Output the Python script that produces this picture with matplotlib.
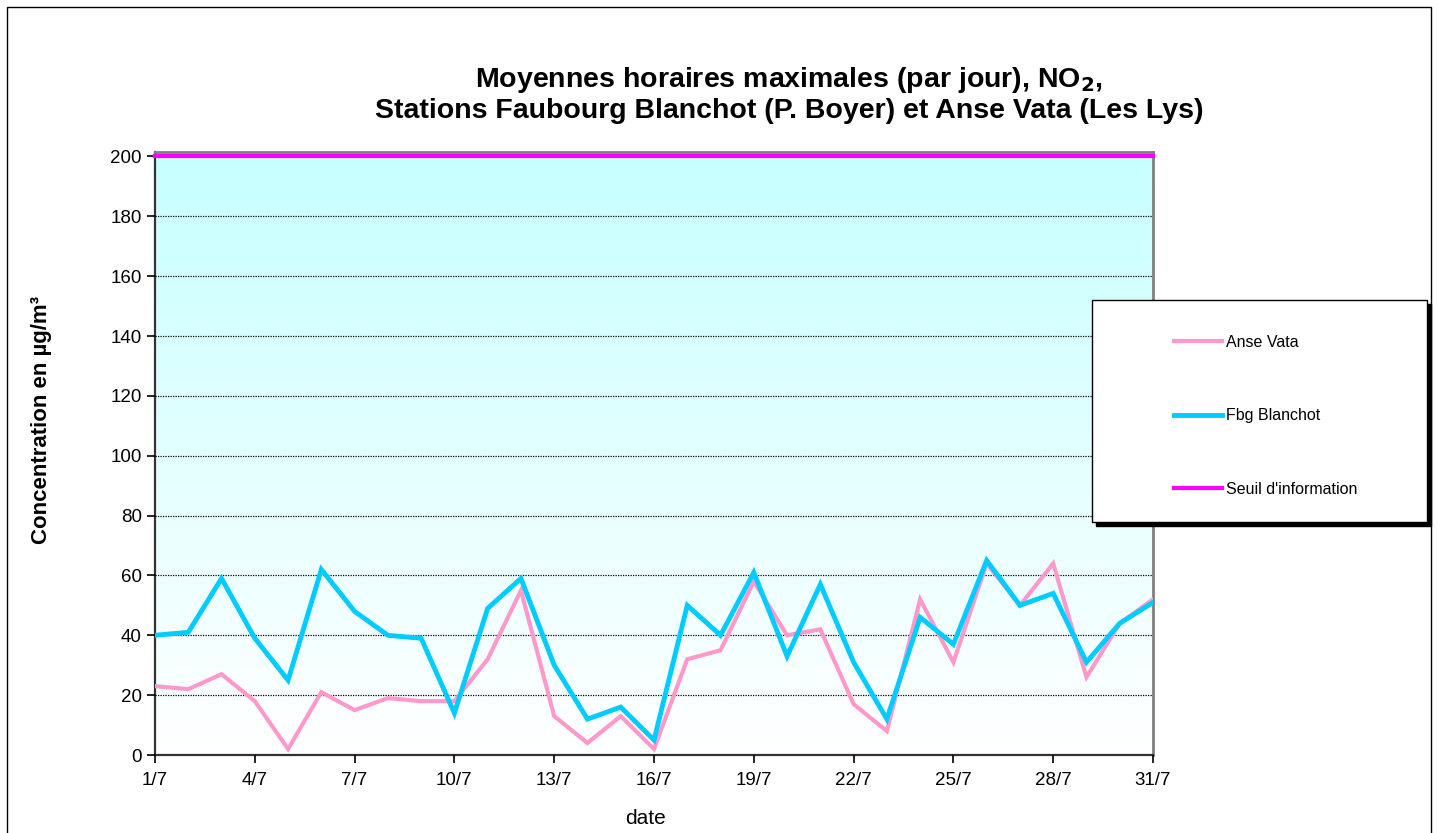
import numpy as np
import matplotlib
matplotlib.use("Agg")
import matplotlib.pyplot as plt
from matplotlib.patches import Rectangle

plt.rcParams['font.family'] = ['Liberation Sans', 'DejaVu Sans']

# jours de juillet
days = list(range(1, 32))
anse_vata = [23, 22, 27, 18, 2, 21, 15, 19, 18, 18,
             32, 55, 13, 4, 13, 2, 32, 35, 58, 40,
             42, 17, 8, 52, 31, 64, 50, 64, 26, 44, 52]
fbg_blanchot = [40, 41, 59, 39, 25, 62, 48, 40, 39, 14,
                49, 59, 30, 12, 16, 5, 50, 40, 61, 33,
                57, 31, 12, 46, 37, 65, 50, 54, 31, 44, 51]
seuil = 200
tick_days = list(range(1, 32, 3))
tick_labels = ["%d/7" % d for d in tick_days]

fig = plt.figure(figsize=(14.38, 8.33), dpi=100)
ax = fig.add_axes([155/1438, 1-755/833, (1153-155)/1438, (755-152)/833])

# fond en degrade cyan -> blanc
grad = np.linspace(0, 1, 256).reshape(-1, 1)
top = np.array([0.78, 1.0, 1.0])
img = np.ones((256, 1, 3)) * (1 - grad[..., None]) + top * grad[..., None]
ax.imshow(img, extent=[0, 1, 0, 1], transform=ax.transAxes, aspect='auto',
          origin='lower', zorder=0)

ax.plot(days, anse_vata, color='#ff99cc', lw=3, label='Anse Vata', zorder=3,
        solid_joinstyle='miter')
ax.plot(days, fbg_blanchot, color='#00ccff', lw=3.5, label='Fbg Blanchot', zorder=4,
        solid_joinstyle='miter')
ax.plot([1, 31], [seuil, seuil], color='#ff00ff', lw=3, label="Seuil d'information",
        zorder=5, clip_on=False)

ax.set_xlim(1, 31)
ax.set_ylim(0, 201.5)
ax.set_yticks(range(0, 201, 20))
ax.set_xticks(tick_days)
ax.set_xticklabels(tick_labels)
ax.tick_params(labelsize=13.5, direction='out', length=6, width=1.2)
ax.tick_params(axis='x', pad=6)
ax.yaxis.grid(True, linestyle=(0, (1, 1)), color='black', lw=0.9)
ax.set_axisbelow(False)
for g in ax.get_ygridlines():
    g.set_zorder(1)

for s in ['top', 'right']:
    ax.spines[s].set_color('#808080')
    ax.spines[s].set_linewidth(2)
for s in ['left', 'bottom']:
    ax.spines[s].set_color('#333333')
    ax.spines[s].set_linewidth(1.6)

fig.text(645/1438, 1-818/833, 'date', ha='center', va='center', fontsize=15)
fig.text(42/1438, 1-420/833, 'Concentration en µg/m³', ha='center', va='center',
         rotation=90, fontsize=16, fontweight='bold')

fig.text(789/1438, 1-80/833, 'Moyennes horaires maximales (par jour), NO$_\\mathbf{2}$,',
         ha='center', va='center', fontsize=20.5, fontweight='bold')
fig.text(789/1438, 1-111/833, 'Stations Faubourg Blanchot (P. Boyer) et Anse Vata (Les Lys)',
         ha='center', va='center', fontsize=20.5, fontweight='bold')

# cadre de la legende avec ombre
fig.patches.append(Rectangle((1096/1438, 1-526/833), 335/1438, 222/833,
                             transform=fig.transFigure, facecolor='black',
                             edgecolor='black', zorder=5))
fig.patches.append(Rectangle((1092/1438, 1-522/833), 335/1438, 222/833,
                             transform=fig.transFigure, facecolor='white',
                             edgecolor='black', lw=1, zorder=6))
leg = fig.legend(loc='upper left', bbox_to_anchor=(1166/1438, 1-327/833),
                 frameon=False, fontsize=11.5, borderpad=0, handlelength=3.0,
                 handletextpad=0.25, labelspacing=3.65)
leg.set_zorder(7)

# cadre exterieur
fig.patches.append(Rectangle((7/1438, -0.02), 1424/1438, 1.02 - 7/833,
                             transform=fig.transFigure, facecolor='none',
                             edgecolor='black', lw=1))

fig.savefig('out.png', dpi=100)
